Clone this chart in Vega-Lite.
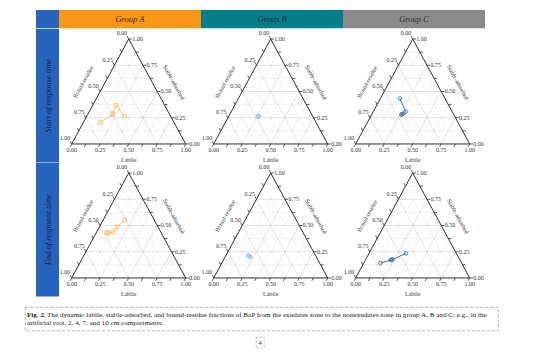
{
"$schema": "https://vega.github.io/schema/vega-lite/v6.json",
"background": "white",
"padding": {"left": 24, "top": 10, "right": 0, "bottom": 0},
"spacing": 0,
"config": {"view": {"stroke": null}, "concat": {"spacing": 0}, "text": {"font": "Liberation Serif"}},
"datasets": {
"frame": [
{"axis":"L","v":0},{"axis":"L","v":0.125},{"axis":"L","v":0.25},{"axis":"L","v":0.375},{"axis":"L","v":0.5},{"axis":"L","v":0.625},{"axis":"L","v":0.75},{"axis":"L","v":0.875},{"axis":"L","v":1},
{"axis":"S","v":0},{"axis":"S","v":0.125},{"axis":"S","v":0.25},{"axis":"S","v":0.375},{"axis":"S","v":0.5},{"axis":"S","v":0.625},{"axis":"S","v":0.75},{"axis":"S","v":0.875},{"axis":"S","v":1},
{"axis":"B","v":0},{"axis":"B","v":0.125},{"axis":"B","v":0.25},{"axis":"B","v":0.375},{"axis":"B","v":0.5},{"axis":"B","v":0.625},{"axis":"B","v":0.75},{"axis":"B","v":0.875},{"axis":"B","v":1}
],
"titles": [
{"axis":"L","text":"Labile"},{"axis":"S","text":"Stable-adsorbed"},{"axis":"B","text":"Bound-residue"}
],
"series": [
{"group":"A","time":"Start","cm":0,"L":0.148,"S":0.203,"B":0.649},
{"group":"A","time":"Start","cm":2,"L":0.213,"S":0.281,"B":0.506},
{"group":"A","time":"Start","cm":4,"L":0.216,"S":0.29,"B":0.494},
{"group":"A","time":"Start","cm":7,"L":0.205,"S":0.368,"B":0.427},
{"group":"A","time":"Start","cm":10,"L":0.33,"S":0.265,"B":0.405},
{"group":"B","time":"Start","cm":0,"L":0.261,"S":0.263,"B":0.476},
{"group":"B","time":"Start","cm":2,"L":0.264,"S":0.266,"B":0.47},
{"group":"B","time":"Start","cm":4,"L":0.258,"S":0.261,"B":0.481},
{"group":"B","time":"Start","cm":7,"L":0.262,"S":0.259,"B":0.479},
{"group":"B","time":"Start","cm":10,"L":0.259,"S":0.265,"B":0.476},
{"group":"C","time":"Start","cm":0,"L":0.172,"S":0.433,"B":0.395},
{"group":"C","time":"Start","cm":2,"L":0.284,"S":0.308,"B":0.408},
{"group":"C","time":"Start","cm":4,"L":0.274,"S":0.288,"B":0.438},
{"group":"C","time":"Start","cm":7,"L":0.26,"S":0.279,"B":0.461},
{"group":"C","time":"Start","cm":10,"L":0.266,"S":0.283,"B":0.451},
{"group":"A","time":"End","cm":0,"L":0.091,"S":0.432,"B":0.477},
{"group":"A","time":"End","cm":2,"L":0.105,"S":0.425,"B":0.47},
{"group":"A","time":"End","cm":4,"L":0.142,"S":0.438,"B":0.42},
{"group":"A","time":"End","cm":7,"L":0.154,"S":0.486,"B":0.36},
{"group":"A","time":"End","cm":10,"L":0.189,"S":0.552,"B":0.259},
{"group":"B","time":"End","cm":0,"L":0.193,"S":0.217,"B":0.59},
{"group":"B","time":"End","cm":2,"L":0.223,"S":0.199,"B":0.578},
{"group":"B","time":"End","cm":4,"L":0.21,"S":0.207,"B":0.583},
{"group":"B","time":"End","cm":7,"L":0.2,"S":0.212,"B":0.588},
{"group":"B","time":"End","cm":10,"L":0.216,"S":0.203,"B":0.581},
{"group":"C","time":"End","cm":0,"L":0.146,"S":0.142,"B":0.712},
{"group":"C","time":"End","cm":2,"L":0.222,"S":0.17,"B":0.608},
{"group":"C","time":"End","cm":4,"L":0.229,"S":0.174,"B":0.597},
{"group":"C","time":"End","cm":7,"L":0.235,"S":0.177,"B":0.588},
{"group":"C","time":"End","cm":10,"L":0.324,"S":0.233,"B":0.443}
],
"caption": [
{"line":1,"part":"fig","text":"Fig. 2."},
{"line":1,"part":"body","text":"The dynamic labile, stable-adsorbed, and bound-residue fractions of BaP from the exudates zone to the nonexudates zone in group A, B and C; e.g., in the"},
{"line":2,"part":"body","text":"artificial root, 2, 4, 7, and 10 cm compartments."}
]
},
"vconcat": [
{"hconcat": [
 {"width": 11, "height": 18.3, "data": {"values": []}, "mark": "text"},
 {"width": 23, "height": 18.3, "view": {"fill": "#2764c0", "stroke": null}, "data": {"values": []}, "mark": "text"},
 {"width": 142, "height": 18.3, "view": {"fill": "#fb9612", "stroke": null}, "data": {"values": [{"t": "Group A"}]}, "mark": {"type": "text", "fontStyle": "italic", "fontSize": 8.5, "color": "#2a2a2a"}, "encoding": {"text": {"field": "t"}}},
 {"width": 142, "height": 18.3, "view": {"fill": "#00808a", "stroke": null}, "data": {"values": [{"t": "Group B"}]}, "mark": {"type": "text", "fontStyle": "italic", "fontSize": 8.5, "color": "#1f2a2c"}, "encoding": {"text": {"field": "t"}}},
 {"width": 142, "height": 18.3, "view": {"fill": "#8a8a8a", "stroke": null}, "data": {"values": [{"t": "Group C"}]}, "mark": {"type": "text", "fontStyle": "italic", "fontSize": 8.5, "color": "#2a2a2a"}, "encoding": {"text": {"field": "t"}}}
], "spacing": 0, "bounds": "flush"},
{"hconcat": [
 {"width": 11, "height": 133.4, "data": {"values": []}, "mark": "text"},
 {"width": 23, "height": 133.4, "view": {"fill": "#2764c0", "stroke": null}, "data": {"values": [{"t": "Start of response time"}]}, "mark": {"type": "text", "angle": 270, "fontStyle": "italic", "fontSize": 8.5, "color": "#0f1f3d"}, "encoding": {"text": {"field": "t"}}},
 {"width": 142, "height": 133.4,
  "encoding": {"x": {"field": "px", "type": "quantitative", "scale": {"domain": [-0.1114, 1.1342], "nice": false, "zero": false}, "axis": null},
               "y": {"field": "py", "type": "quantitative", "scale": {"domain": [-0.1522, 0.9485], "nice": false, "zero": false}, "axis": null}},
  "layer": [
   {"data": {"name": "frame"},
    "transform": [
     {"calculate": "datum.axis=='L' ? datum.v : datum.axis=='S' ? datum.v/2 : 1-datum.v", "as": "px"},
     {"calculate": "datum.axis=='S' ? datum.v*0.8660254 : 0", "as": "py"},
     {"calculate": "datum.axis=='L' ? (1+datum.v)/2 : datum.axis=='S' ? 1-datum.v/2 : (1-datum.v)/2", "as": "px2"},
     {"calculate": "(datum.axis=='S' ? datum.v : 1-datum.v)*0.8660254", "as": "py2"},
     {"calculate": "datum.axis=='L' ? datum.px : datum.px2", "as": "ax"},
     {"calculate": "datum.axis=='L' ? datum.py : datum.py2", "as": "ay"},
     {"calculate": "format(datum.v, '.2f')", "as": "lab"}
    ],
    "layer": [
     {"transform": [{"filter": "datum.v > 0 && datum.v < 1 && (datum.v*4) % 1 != 0"}], "mark": {"type": "rule", "color": "#e8e8e8", "strokeWidth": 0.6}, "encoding": {"x2": {"field": "px2"}, "y2": {"field": "py2"}}},
     {"transform": [{"filter": "datum.v > 0 && datum.v < 1 && (datum.v*4) % 1 == 0"}], "mark": {"type": "rule", "color": "#d4d4d4", "strokeWidth": 0.7}, "encoding": {"x2": {"field": "px2"}, "y2": {"field": "py2"}}},
     {"transform": [{"filter": "datum.v == 0"}], "mark": {"type": "rule", "color": "#2e2e2e", "strokeWidth": 1}, "encoding": {"x2": {"field": "px2"}, "y2": {"field": "py2"}}},
     {"transform": [{"calculate": "datum.ax + (datum.axis=='S' ? 0.028 : -0.014)", "as": "px2"}, {"calculate": "datum.ay + (datum.axis=='L' ? -0.0242 : datum.axis=='B' ? 0.0242 : 0)", "as": "py2"}, {"calculate": "datum.ax", "as": "px"}, {"calculate": "datum.ay", "as": "py"}], "mark": {"type": "rule", "color": "#2e2e2e", "strokeWidth": 0.8}, "encoding": {"x2": {"field": "px2"}, "y2": {"field": "py2"}}},
     {"transform": [{"filter": "(datum.v*4) % 1 == 0"}, {"calculate": "datum.ax", "as": "px"}, {"calculate": "datum.ay", "as": "py"}],
      "encoding": {"text": {"field": "lab"}},
      "layer": [
       {"transform": [{"filter": "datum.axis=='L'"}], "mark": {"type": "text", "fontSize": 6, "color": "#333", "align": "center", "baseline": "middle", "dy": 6}},
       {"transform": [{"filter": "datum.axis=='S'"}], "mark": {"type": "text", "fontSize": 6, "color": "#333", "align": "left", "baseline": "middle", "dx": 3.5}},
       {"transform": [{"filter": "datum.axis=='B'"}], "mark": {"type": "text", "fontSize": 6, "color": "#333", "align": "right", "baseline": "middle", "dx": -1.5, "dy": -5.5}}
      ]}
    ]},
   {"data": {"name": "titles"},
    "transform": [{"calculate": "datum.axis=='L' ? 0.5 : datum.axis=='S' ? 0.75 : 0.25", "as": "px"}, {"calculate": "datum.axis=='L' ? 0 : 0.4330127", "as": "py"}],
    "encoding": {"text": {"field": "text"}},
    "layer": [
     {"transform": [{"filter": "datum.axis=='L'"}], "mark": {"type": "text", "fontSize": 6, "color": "#333", "baseline": "middle", "dy": 16}},
     {"transform": [{"filter": "datum.axis=='S'"}], "mark": {"type": "text", "fontSize": 6, "color": "#333", "baseline": "middle", "angle": 61, "dy": -19}},
     {"transform": [{"filter": "datum.axis=='B'"}], "mark": {"type": "text", "fontSize": 6, "color": "#333", "baseline": "middle", "angle": 299, "dy": -19.5}}
    ]},
   {"data": {"name": "series"},
    "transform": [{"filter": "datum.group=='A' && datum.time=='Start'"}, {"calculate": "datum.L + datum.S/2", "as": "px"}, {"calculate": "datum.S*0.8660254", "as": "py"}],
    "encoding": {"color": {"field": "group", "type": "nominal", "scale": {"domain": ["A", "B", "C"], "range": ["#f6c26e", "#a9c7e4", "#3c78a8"]}, "legend": null}, "order": {"field": "cm", "type": "quantitative"}},
    "layer": [
     {"mark": {"type": "line", "strokeWidth": 1}},
     {"mark": {"type": "point", "filled": false, "strokeWidth": 0.9, "size": 13, "opacity": 1}, "encoding": {"shape": {"field": "group", "type": "nominal", "scale": {"domain": ["A", "B", "C"], "range": ["square", "circle", "circle"]}, "legend": null}}}
    ]}
  ]},
 {"width": 142, "height": 133.4,
  "encoding": {"x": {"field": "px", "type": "quantitative", "scale": {"domain": [-0.1114, 1.1342], "nice": false, "zero": false}, "axis": null},
               "y": {"field": "py", "type": "quantitative", "scale": {"domain": [-0.1522, 0.9485], "nice": false, "zero": false}, "axis": null}},
  "layer": [
   {"data": {"name": "frame"},
    "transform": [
     {"calculate": "datum.axis=='L' ? datum.v : datum.axis=='S' ? datum.v/2 : 1-datum.v", "as": "px"},
     {"calculate": "datum.axis=='S' ? datum.v*0.8660254 : 0", "as": "py"},
     {"calculate": "datum.axis=='L' ? (1+datum.v)/2 : datum.axis=='S' ? 1-datum.v/2 : (1-datum.v)/2", "as": "px2"},
     {"calculate": "(datum.axis=='S' ? datum.v : 1-datum.v)*0.8660254", "as": "py2"},
     {"calculate": "datum.axis=='L' ? datum.px : datum.px2", "as": "ax"},
     {"calculate": "datum.axis=='L' ? datum.py : datum.py2", "as": "ay"},
     {"calculate": "format(datum.v, '.2f')", "as": "lab"}
    ],
    "layer": [
     {"transform": [{"filter": "datum.v > 0 && datum.v < 1 && (datum.v*4) % 1 != 0"}], "mark": {"type": "rule", "color": "#e8e8e8", "strokeWidth": 0.6}, "encoding": {"x2": {"field": "px2"}, "y2": {"field": "py2"}}},
     {"transform": [{"filter": "datum.v > 0 && datum.v < 1 && (datum.v*4) % 1 == 0"}], "mark": {"type": "rule", "color": "#d4d4d4", "strokeWidth": 0.7}, "encoding": {"x2": {"field": "px2"}, "y2": {"field": "py2"}}},
     {"transform": [{"filter": "datum.v == 0"}], "mark": {"type": "rule", "color": "#2e2e2e", "strokeWidth": 1}, "encoding": {"x2": {"field": "px2"}, "y2": {"field": "py2"}}},
     {"transform": [{"calculate": "datum.ax + (datum.axis=='S' ? 0.028 : -0.014)", "as": "px2"}, {"calculate": "datum.ay + (datum.axis=='L' ? -0.0242 : datum.axis=='B' ? 0.0242 : 0)", "as": "py2"}, {"calculate": "datum.ax", "as": "px"}, {"calculate": "datum.ay", "as": "py"}], "mark": {"type": "rule", "color": "#2e2e2e", "strokeWidth": 0.8}, "encoding": {"x2": {"field": "px2"}, "y2": {"field": "py2"}}},
     {"transform": [{"filter": "(datum.v*4) % 1 == 0"}, {"calculate": "datum.ax", "as": "px"}, {"calculate": "datum.ay", "as": "py"}],
      "encoding": {"text": {"field": "lab"}},
      "layer": [
       {"transform": [{"filter": "datum.axis=='L'"}], "mark": {"type": "text", "fontSize": 6, "color": "#333", "align": "center", "baseline": "middle", "dy": 6}},
       {"transform": [{"filter": "datum.axis=='S'"}], "mark": {"type": "text", "fontSize": 6, "color": "#333", "align": "left", "baseline": "middle", "dx": 3.5}},
       {"transform": [{"filter": "datum.axis=='B'"}], "mark": {"type": "text", "fontSize": 6, "color": "#333", "align": "right", "baseline": "middle", "dx": -1.5, "dy": -5.5}}
      ]}
    ]},
   {"data": {"name": "titles"},
    "transform": [{"calculate": "datum.axis=='L' ? 0.5 : datum.axis=='S' ? 0.75 : 0.25", "as": "px"}, {"calculate": "datum.axis=='L' ? 0 : 0.4330127", "as": "py"}],
    "encoding": {"text": {"field": "text"}},
    "layer": [
     {"transform": [{"filter": "datum.axis=='L'"}], "mark": {"type": "text", "fontSize": 6, "color": "#333", "baseline": "middle", "dy": 16}},
     {"transform": [{"filter": "datum.axis=='S'"}], "mark": {"type": "text", "fontSize": 6, "color": "#333", "baseline": "middle", "angle": 61, "dy": -19}},
     {"transform": [{"filter": "datum.axis=='B'"}], "mark": {"type": "text", "fontSize": 6, "color": "#333", "baseline": "middle", "angle": 299, "dy": -19.5}}
    ]},
   {"data": {"name": "series"},
    "transform": [{"filter": "datum.group=='B' && datum.time=='Start'"}, {"calculate": "datum.L + datum.S/2", "as": "px"}, {"calculate": "datum.S*0.8660254", "as": "py"}],
    "encoding": {"color": {"field": "group", "type": "nominal", "scale": {"domain": ["A", "B", "C"], "range": ["#f6c26e", "#a9c7e4", "#3c78a8"]}, "legend": null}, "order": {"field": "cm", "type": "quantitative"}},
    "layer": [
     {"mark": {"type": "line", "strokeWidth": 1}},
     {"mark": {"type": "point", "filled": false, "strokeWidth": 0.9, "size": 13, "opacity": 1}, "encoding": {"shape": {"field": "group", "type": "nominal", "scale": {"domain": ["A", "B", "C"], "range": ["square", "circle", "circle"]}, "legend": null}}}
    ]}
  ]},
 {"width": 142, "height": 133.4,
  "encoding": {"x": {"field": "px", "type": "quantitative", "scale": {"domain": [-0.1114, 1.1342], "nice": false, "zero": false}, "axis": null},
               "y": {"field": "py", "type": "quantitative", "scale": {"domain": [-0.1522, 0.9485], "nice": false, "zero": false}, "axis": null}},
  "layer": [
   {"data": {"name": "frame"},
    "transform": [
     {"calculate": "datum.axis=='L' ? datum.v : datum.axis=='S' ? datum.v/2 : 1-datum.v", "as": "px"},
     {"calculate": "datum.axis=='S' ? datum.v*0.8660254 : 0", "as": "py"},
     {"calculate": "datum.axis=='L' ? (1+datum.v)/2 : datum.axis=='S' ? 1-datum.v/2 : (1-datum.v)/2", "as": "px2"},
     {"calculate": "(datum.axis=='S' ? datum.v : 1-datum.v)*0.8660254", "as": "py2"},
     {"calculate": "datum.axis=='L' ? datum.px : datum.px2", "as": "ax"},
     {"calculate": "datum.axis=='L' ? datum.py : datum.py2", "as": "ay"},
     {"calculate": "format(datum.v, '.2f')", "as": "lab"}
    ],
    "layer": [
     {"transform": [{"filter": "datum.v > 0 && datum.v < 1 && (datum.v*4) % 1 != 0"}], "mark": {"type": "rule", "color": "#e8e8e8", "strokeWidth": 0.6}, "encoding": {"x2": {"field": "px2"}, "y2": {"field": "py2"}}},
     {"transform": [{"filter": "datum.v > 0 && datum.v < 1 && (datum.v*4) % 1 == 0"}], "mark": {"type": "rule", "color": "#d4d4d4", "strokeWidth": 0.7}, "encoding": {"x2": {"field": "px2"}, "y2": {"field": "py2"}}},
     {"transform": [{"filter": "datum.v == 0"}], "mark": {"type": "rule", "color": "#2e2e2e", "strokeWidth": 1}, "encoding": {"x2": {"field": "px2"}, "y2": {"field": "py2"}}},
     {"transform": [{"calculate": "datum.ax + (datum.axis=='S' ? 0.028 : -0.014)", "as": "px2"}, {"calculate": "datum.ay + (datum.axis=='L' ? -0.0242 : datum.axis=='B' ? 0.0242 : 0)", "as": "py2"}, {"calculate": "datum.ax", "as": "px"}, {"calculate": "datum.ay", "as": "py"}], "mark": {"type": "rule", "color": "#2e2e2e", "strokeWidth": 0.8}, "encoding": {"x2": {"field": "px2"}, "y2": {"field": "py2"}}},
     {"transform": [{"filter": "(datum.v*4) % 1 == 0"}, {"calculate": "datum.ax", "as": "px"}, {"calculate": "datum.ay", "as": "py"}],
      "encoding": {"text": {"field": "lab"}},
      "layer": [
       {"transform": [{"filter": "datum.axis=='L'"}], "mark": {"type": "text", "fontSize": 6, "color": "#333", "align": "center", "baseline": "middle", "dy": 6}},
       {"transform": [{"filter": "datum.axis=='S'"}], "mark": {"type": "text", "fontSize": 6, "color": "#333", "align": "left", "baseline": "middle", "dx": 3.5}},
       {"transform": [{"filter": "datum.axis=='B'"}], "mark": {"type": "text", "fontSize": 6, "color": "#333", "align": "right", "baseline": "middle", "dx": -1.5, "dy": -5.5}}
      ]}
    ]},
   {"data": {"name": "titles"},
    "transform": [{"calculate": "datum.axis=='L' ? 0.5 : datum.axis=='S' ? 0.75 : 0.25", "as": "px"}, {"calculate": "datum.axis=='L' ? 0 : 0.4330127", "as": "py"}],
    "encoding": {"text": {"field": "text"}},
    "layer": [
     {"transform": [{"filter": "datum.axis=='L'"}], "mark": {"type": "text", "fontSize": 6, "color": "#333", "baseline": "middle", "dy": 16}},
     {"transform": [{"filter": "datum.axis=='S'"}], "mark": {"type": "text", "fontSize": 6, "color": "#333", "baseline": "middle", "angle": 61, "dy": -19}},
     {"transform": [{"filter": "datum.axis=='B'"}], "mark": {"type": "text", "fontSize": 6, "color": "#333", "baseline": "middle", "angle": 299, "dy": -19.5}}
    ]},
   {"data": {"name": "series"},
    "transform": [{"filter": "datum.group=='C' && datum.time=='Start'"}, {"calculate": "datum.L + datum.S/2", "as": "px"}, {"calculate": "datum.S*0.8660254", "as": "py"}],
    "encoding": {"color": {"field": "group", "type": "nominal", "scale": {"domain": ["A", "B", "C"], "range": ["#f6c26e", "#a9c7e4", "#3c78a8"]}, "legend": null}, "order": {"field": "cm", "type": "quantitative"}},
    "layer": [
     {"mark": {"type": "line", "strokeWidth": 1}},
     {"mark": {"type": "point", "filled": false, "strokeWidth": 0.9, "size": 13, "opacity": 1}, "encoding": {"shape": {"field": "group", "type": "nominal", "scale": {"domain": ["A", "B", "C"], "range": ["square", "circle", "circle"]}, "legend": null}}}
    ]}
  ]}
], "spacing": 0, "bounds": "flush"},
{"hconcat": [
 {"width": 11, "height": 133.4, "data": {"values": []}, "mark": "text"},
 {"width": 23, "height": 133.4, "view": {"fill": "#2764c0", "stroke": null}, "data": {"values": [{"t": "End of response time"}]}, "mark": {"type": "text", "angle": 270, "fontStyle": "italic", "fontSize": 8.5, "color": "#0f1f3d"}, "encoding": {"text": {"field": "t"}}},
 {"width": 142, "height": 133.4,
  "encoding": {"x": {"field": "px", "type": "quantitative", "scale": {"domain": [-0.1114, 1.1342], "nice": false, "zero": false}, "axis": null},
               "y": {"field": "py", "type": "quantitative", "scale": {"domain": [-0.1522, 0.9485], "nice": false, "zero": false}, "axis": null}},
  "layer": [
   {"data": {"name": "frame"},
    "transform": [
     {"calculate": "datum.axis=='L' ? datum.v : datum.axis=='S' ? datum.v/2 : 1-datum.v", "as": "px"},
     {"calculate": "datum.axis=='S' ? datum.v*0.8660254 : 0", "as": "py"},
     {"calculate": "datum.axis=='L' ? (1+datum.v)/2 : datum.axis=='S' ? 1-datum.v/2 : (1-datum.v)/2", "as": "px2"},
     {"calculate": "(datum.axis=='S' ? datum.v : 1-datum.v)*0.8660254", "as": "py2"},
     {"calculate": "datum.axis=='L' ? datum.px : datum.px2", "as": "ax"},
     {"calculate": "datum.axis=='L' ? datum.py : datum.py2", "as": "ay"},
     {"calculate": "format(datum.v, '.2f')", "as": "lab"}
    ],
    "layer": [
     {"transform": [{"filter": "datum.v > 0 && datum.v < 1 && (datum.v*4) % 1 != 0"}], "mark": {"type": "rule", "color": "#e8e8e8", "strokeWidth": 0.6}, "encoding": {"x2": {"field": "px2"}, "y2": {"field": "py2"}}},
     {"transform": [{"filter": "datum.v > 0 && datum.v < 1 && (datum.v*4) % 1 == 0"}], "mark": {"type": "rule", "color": "#d4d4d4", "strokeWidth": 0.7}, "encoding": {"x2": {"field": "px2"}, "y2": {"field": "py2"}}},
     {"transform": [{"filter": "datum.v == 0"}], "mark": {"type": "rule", "color": "#2e2e2e", "strokeWidth": 1}, "encoding": {"x2": {"field": "px2"}, "y2": {"field": "py2"}}},
     {"transform": [{"calculate": "datum.ax + (datum.axis=='S' ? 0.028 : -0.014)", "as": "px2"}, {"calculate": "datum.ay + (datum.axis=='L' ? -0.0242 : datum.axis=='B' ? 0.0242 : 0)", "as": "py2"}, {"calculate": "datum.ax", "as": "px"}, {"calculate": "datum.ay", "as": "py"}], "mark": {"type": "rule", "color": "#2e2e2e", "strokeWidth": 0.8}, "encoding": {"x2": {"field": "px2"}, "y2": {"field": "py2"}}},
     {"transform": [{"filter": "(datum.v*4) % 1 == 0"}, {"calculate": "datum.ax", "as": "px"}, {"calculate": "datum.ay", "as": "py"}],
      "encoding": {"text": {"field": "lab"}},
      "layer": [
       {"transform": [{"filter": "datum.axis=='L'"}], "mark": {"type": "text", "fontSize": 6, "color": "#333", "align": "center", "baseline": "middle", "dy": 6}},
       {"transform": [{"filter": "datum.axis=='S'"}], "mark": {"type": "text", "fontSize": 6, "color": "#333", "align": "left", "baseline": "middle", "dx": 3.5}},
       {"transform": [{"filter": "datum.axis=='B'"}], "mark": {"type": "text", "fontSize": 6, "color": "#333", "align": "right", "baseline": "middle", "dx": -1.5, "dy": -5.5}}
      ]}
    ]},
   {"data": {"name": "titles"},
    "transform": [{"calculate": "datum.axis=='L' ? 0.5 : datum.axis=='S' ? 0.75 : 0.25", "as": "px"}, {"calculate": "datum.axis=='L' ? 0 : 0.4330127", "as": "py"}],
    "encoding": {"text": {"field": "text"}},
    "layer": [
     {"transform": [{"filter": "datum.axis=='L'"}], "mark": {"type": "text", "fontSize": 6, "color": "#333", "baseline": "middle", "dy": 16}},
     {"transform": [{"filter": "datum.axis=='S'"}], "mark": {"type": "text", "fontSize": 6, "color": "#333", "baseline": "middle", "angle": 61, "dy": -19}},
     {"transform": [{"filter": "datum.axis=='B'"}], "mark": {"type": "text", "fontSize": 6, "color": "#333", "baseline": "middle", "angle": 299, "dy": -19.5}}
    ]},
   {"data": {"name": "series"},
    "transform": [{"filter": "datum.group=='A' && datum.time=='End'"}, {"calculate": "datum.L + datum.S/2", "as": "px"}, {"calculate": "datum.S*0.8660254", "as": "py"}],
    "encoding": {"color": {"field": "group", "type": "nominal", "scale": {"domain": ["A", "B", "C"], "range": ["#f6c26e", "#a9c7e4", "#3c78a8"]}, "legend": null}, "order": {"field": "cm", "type": "quantitative"}},
    "layer": [
     {"mark": {"type": "line", "strokeWidth": 1}},
     {"mark": {"type": "point", "filled": false, "strokeWidth": 0.9, "size": 13, "opacity": 1}, "encoding": {"shape": {"field": "group", "type": "nominal", "scale": {"domain": ["A", "B", "C"], "range": ["square", "circle", "circle"]}, "legend": null}}}
    ]}
  ]},
 {"width": 142, "height": 133.4,
  "encoding": {"x": {"field": "px", "type": "quantitative", "scale": {"domain": [-0.1114, 1.1342], "nice": false, "zero": false}, "axis": null},
               "y": {"field": "py", "type": "quantitative", "scale": {"domain": [-0.1522, 0.9485], "nice": false, "zero": false}, "axis": null}},
  "layer": [
   {"data": {"name": "frame"},
    "transform": [
     {"calculate": "datum.axis=='L' ? datum.v : datum.axis=='S' ? datum.v/2 : 1-datum.v", "as": "px"},
     {"calculate": "datum.axis=='S' ? datum.v*0.8660254 : 0", "as": "py"},
     {"calculate": "datum.axis=='L' ? (1+datum.v)/2 : datum.axis=='S' ? 1-datum.v/2 : (1-datum.v)/2", "as": "px2"},
     {"calculate": "(datum.axis=='S' ? datum.v : 1-datum.v)*0.8660254", "as": "py2"},
     {"calculate": "datum.axis=='L' ? datum.px : datum.px2", "as": "ax"},
     {"calculate": "datum.axis=='L' ? datum.py : datum.py2", "as": "ay"},
     {"calculate": "format(datum.v, '.2f')", "as": "lab"}
    ],
    "layer": [
     {"transform": [{"filter": "datum.v > 0 && datum.v < 1 && (datum.v*4) % 1 != 0"}], "mark": {"type": "rule", "color": "#e8e8e8", "strokeWidth": 0.6}, "encoding": {"x2": {"field": "px2"}, "y2": {"field": "py2"}}},
     {"transform": [{"filter": "datum.v > 0 && datum.v < 1 && (datum.v*4) % 1 == 0"}], "mark": {"type": "rule", "color": "#d4d4d4", "strokeWidth": 0.7}, "encoding": {"x2": {"field": "px2"}, "y2": {"field": "py2"}}},
     {"transform": [{"filter": "datum.v == 0"}], "mark": {"type": "rule", "color": "#2e2e2e", "strokeWidth": 1}, "encoding": {"x2": {"field": "px2"}, "y2": {"field": "py2"}}},
     {"transform": [{"calculate": "datum.ax + (datum.axis=='S' ? 0.028 : -0.014)", "as": "px2"}, {"calculate": "datum.ay + (datum.axis=='L' ? -0.0242 : datum.axis=='B' ? 0.0242 : 0)", "as": "py2"}, {"calculate": "datum.ax", "as": "px"}, {"calculate": "datum.ay", "as": "py"}], "mark": {"type": "rule", "color": "#2e2e2e", "strokeWidth": 0.8}, "encoding": {"x2": {"field": "px2"}, "y2": {"field": "py2"}}},
     {"transform": [{"filter": "(datum.v*4) % 1 == 0"}, {"calculate": "datum.ax", "as": "px"}, {"calculate": "datum.ay", "as": "py"}],
      "encoding": {"text": {"field": "lab"}},
      "layer": [
       {"transform": [{"filter": "datum.axis=='L'"}], "mark": {"type": "text", "fontSize": 6, "color": "#333", "align": "center", "baseline": "middle", "dy": 6}},
       {"transform": [{"filter": "datum.axis=='S'"}], "mark": {"type": "text", "fontSize": 6, "color": "#333", "align": "left", "baseline": "middle", "dx": 3.5}},
       {"transform": [{"filter": "datum.axis=='B'"}], "mark": {"type": "text", "fontSize": 6, "color": "#333", "align": "right", "baseline": "middle", "dx": -1.5, "dy": -5.5}}
      ]}
    ]},
   {"data": {"name": "titles"},
    "transform": [{"calculate": "datum.axis=='L' ? 0.5 : datum.axis=='S' ? 0.75 : 0.25", "as": "px"}, {"calculate": "datum.axis=='L' ? 0 : 0.4330127", "as": "py"}],
    "encoding": {"text": {"field": "text"}},
    "layer": [
     {"transform": [{"filter": "datum.axis=='L'"}], "mark": {"type": "text", "fontSize": 6, "color": "#333", "baseline": "middle", "dy": 16}},
     {"transform": [{"filter": "datum.axis=='S'"}], "mark": {"type": "text", "fontSize": 6, "color": "#333", "baseline": "middle", "angle": 61, "dy": -19}},
     {"transform": [{"filter": "datum.axis=='B'"}], "mark": {"type": "text", "fontSize": 6, "color": "#333", "baseline": "middle", "angle": 299, "dy": -19.5}}
    ]},
   {"data": {"name": "series"},
    "transform": [{"filter": "datum.group=='B' && datum.time=='End'"}, {"calculate": "datum.L + datum.S/2", "as": "px"}, {"calculate": "datum.S*0.8660254", "as": "py"}],
    "encoding": {"color": {"field": "group", "type": "nominal", "scale": {"domain": ["A", "B", "C"], "range": ["#f6c26e", "#a9c7e4", "#3c78a8"]}, "legend": null}, "order": {"field": "cm", "type": "quantitative"}},
    "layer": [
     {"mark": {"type": "line", "strokeWidth": 1}},
     {"mark": {"type": "point", "filled": false, "strokeWidth": 0.9, "size": 13, "opacity": 1}, "encoding": {"shape": {"field": "group", "type": "nominal", "scale": {"domain": ["A", "B", "C"], "range": ["square", "circle", "circle"]}, "legend": null}}}
    ]}
  ]},
 {"width": 142, "height": 133.4,
  "encoding": {"x": {"field": "px", "type": "quantitative", "scale": {"domain": [-0.1114, 1.1342], "nice": false, "zero": false}, "axis": null},
               "y": {"field": "py", "type": "quantitative", "scale": {"domain": [-0.1522, 0.9485], "nice": false, "zero": false}, "axis": null}},
  "layer": [
   {"data": {"name": "frame"},
    "transform": [
     {"calculate": "datum.axis=='L' ? datum.v : datum.axis=='S' ? datum.v/2 : 1-datum.v", "as": "px"},
     {"calculate": "datum.axis=='S' ? datum.v*0.8660254 : 0", "as": "py"},
     {"calculate": "datum.axis=='L' ? (1+datum.v)/2 : datum.axis=='S' ? 1-datum.v/2 : (1-datum.v)/2", "as": "px2"},
     {"calculate": "(datum.axis=='S' ? datum.v : 1-datum.v)*0.8660254", "as": "py2"},
     {"calculate": "datum.axis=='L' ? datum.px : datum.px2", "as": "ax"},
     {"calculate": "datum.axis=='L' ? datum.py : datum.py2", "as": "ay"},
     {"calculate": "format(datum.v, '.2f')", "as": "lab"}
    ],
    "layer": [
     {"transform": [{"filter": "datum.v > 0 && datum.v < 1 && (datum.v*4) % 1 != 0"}], "mark": {"type": "rule", "color": "#e8e8e8", "strokeWidth": 0.6}, "encoding": {"x2": {"field": "px2"}, "y2": {"field": "py2"}}},
     {"transform": [{"filter": "datum.v > 0 && datum.v < 1 && (datum.v*4) % 1 == 0"}], "mark": {"type": "rule", "color": "#d4d4d4", "strokeWidth": 0.7}, "encoding": {"x2": {"field": "px2"}, "y2": {"field": "py2"}}},
     {"transform": [{"filter": "datum.v == 0"}], "mark": {"type": "rule", "color": "#2e2e2e", "strokeWidth": 1}, "encoding": {"x2": {"field": "px2"}, "y2": {"field": "py2"}}},
     {"transform": [{"calculate": "datum.ax + (datum.axis=='S' ? 0.028 : -0.014)", "as": "px2"}, {"calculate": "datum.ay + (datum.axis=='L' ? -0.0242 : datum.axis=='B' ? 0.0242 : 0)", "as": "py2"}, {"calculate": "datum.ax", "as": "px"}, {"calculate": "datum.ay", "as": "py"}], "mark": {"type": "rule", "color": "#2e2e2e", "strokeWidth": 0.8}, "encoding": {"x2": {"field": "px2"}, "y2": {"field": "py2"}}},
     {"transform": [{"filter": "(datum.v*4) % 1 == 0"}, {"calculate": "datum.ax", "as": "px"}, {"calculate": "datum.ay", "as": "py"}],
      "encoding": {"text": {"field": "lab"}},
      "layer": [
       {"transform": [{"filter": "datum.axis=='L'"}], "mark": {"type": "text", "fontSize": 6, "color": "#333", "align": "center", "baseline": "middle", "dy": 6}},
       {"transform": [{"filter": "datum.axis=='S'"}], "mark": {"type": "text", "fontSize": 6, "color": "#333", "align": "left", "baseline": "middle", "dx": 3.5}},
       {"transform": [{"filter": "datum.axis=='B'"}], "mark": {"type": "text", "fontSize": 6, "color": "#333", "align": "right", "baseline": "middle", "dx": -1.5, "dy": -5.5}}
      ]}
    ]},
   {"data": {"name": "titles"},
    "transform": [{"calculate": "datum.axis=='L' ? 0.5 : datum.axis=='S' ? 0.75 : 0.25", "as": "px"}, {"calculate": "datum.axis=='L' ? 0 : 0.4330127", "as": "py"}],
    "encoding": {"text": {"field": "text"}},
    "layer": [
     {"transform": [{"filter": "datum.axis=='L'"}], "mark": {"type": "text", "fontSize": 6, "color": "#333", "baseline": "middle", "dy": 16}},
     {"transform": [{"filter": "datum.axis=='S'"}], "mark": {"type": "text", "fontSize": 6, "color": "#333", "baseline": "middle", "angle": 61, "dy": -19}},
     {"transform": [{"filter": "datum.axis=='B'"}], "mark": {"type": "text", "fontSize": 6, "color": "#333", "baseline": "middle", "angle": 299, "dy": -19.5}}
    ]},
   {"data": {"name": "series"},
    "transform": [{"filter": "datum.group=='C' && datum.time=='End'"}, {"calculate": "datum.L + datum.S/2", "as": "px"}, {"calculate": "datum.S*0.8660254", "as": "py"}],
    "encoding": {"color": {"field": "group", "type": "nominal", "scale": {"domain": ["A", "B", "C"], "range": ["#f6c26e", "#a9c7e4", "#3c78a8"]}, "legend": null}, "order": {"field": "cm", "type": "quantitative"}},
    "layer": [
     {"mark": {"type": "line", "strokeWidth": 1}},
     {"mark": {"type": "point", "filled": false, "strokeWidth": 0.9, "size": 13, "opacity": 1}, "encoding": {"shape": {"field": "group", "type": "nominal", "scale": {"domain": ["A", "B", "C"], "range": ["square", "circle", "circle"]}, "legend": null}}}
    ]}
  ]}
], "spacing": 0, "bounds": "flush"},
{"width": 473, "height": 8.2, "data": {"values": []}, "mark": "text"},
{"width": 473, "height": 23.5,
 "view": {"stroke": "#9c9c9c", "strokeDash": [3, 2], "strokeWidth": 0.8},
 "data": {"name": "caption"},
 "encoding": {
  "x": {"datum": 0, "type": "quantitative", "scale": {"domain": [0, 1]}, "axis": null},
  "y": {"field": "line", "type": "quantitative", "scale": {"domain": [0, 3], "reverse": true}, "axis": null},
  "text": {"field": "text"}
 },
 "layer": [
  {"transform": [{"filter": "datum.part=='fig'"}], "mark": {"type": "text", "align": "left", "baseline": "middle", "dx": 2, "fontWeight": "bold", "fontSize": 7.1, "color": "#222"}},
  {"transform": [{"filter": "datum.part=='body' && datum.line==1"}], "mark": {"type": "text", "align": "left", "baseline": "middle", "dx": 22, "fontSize": 7.15, "color": "#222"}},
  {"transform": [{"filter": "datum.line==2"}], "mark": {"type": "text", "align": "left", "baseline": "middle", "dx": 2, "fontSize": 7.15, "color": "#222"}}
 ]},
{"width": 473, "height": 4.5, "data": {"values": []}, "mark": "text"},
{"hconcat": [
 {"width": 231, "height": 11, "data": {"values": []}, "mark": "text"},
 {"width": 8, "height": 11, "view": {"stroke": "#9c9c9c", "strokeDash": [2, 2], "strokeWidth": 0.7}, "data": {"values": [{"t": "4"}]}, "mark": {"type": "text", "fontSize": 7, "color": "#333"}, "encoding": {"text": {"field": "t"}}}
], "spacing": 0, "bounds": "flush"}
]
}
